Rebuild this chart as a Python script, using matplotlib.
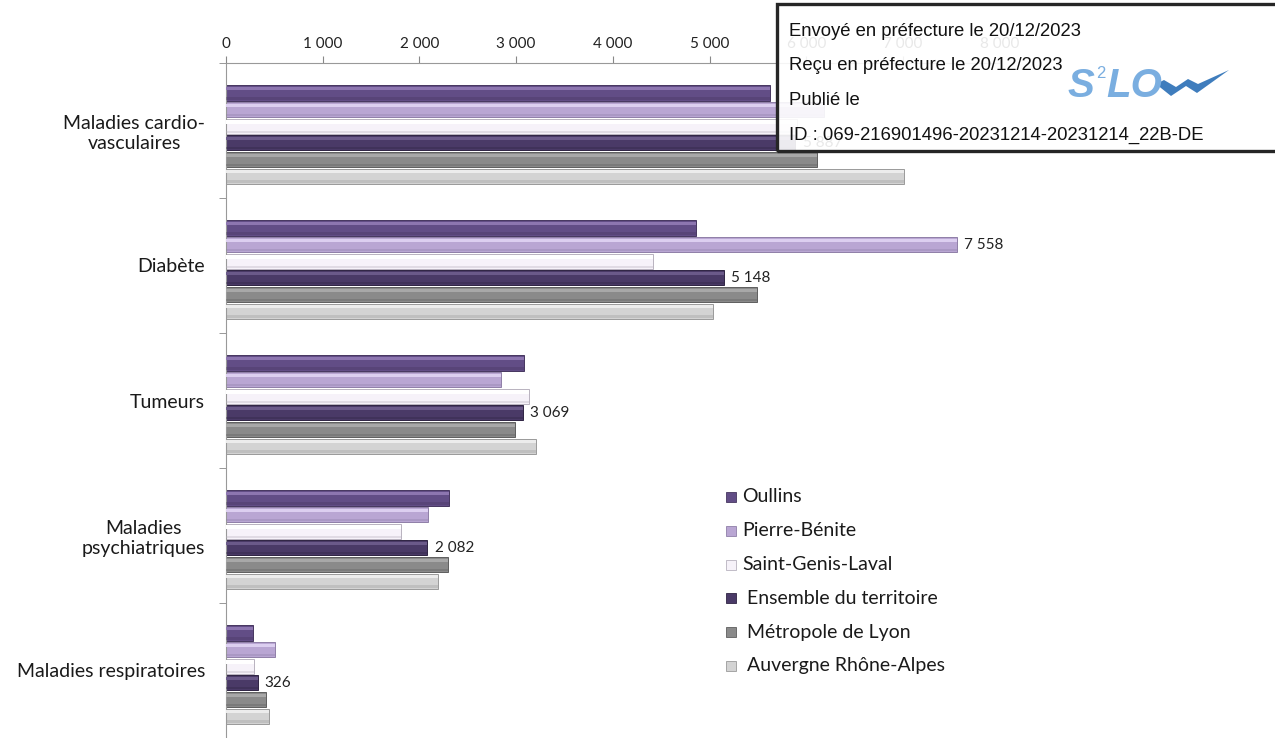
import numpy as np
import matplotlib
matplotlib.use("Agg")
import matplotlib.pyplot as plt
from matplotlib.patches import Rectangle, Polygon

plt.rcParams['font.family'] = ['Lato', 'DejaVu Sans']

categories = ["Maladies cardio-\nvasculaires", "Diabète", "Tumeurs",
              "Maladies\npsychiatriques", "Maladies respiratoires"]
series = ["Oullins", "Pierre-Bénite", "Saint-Genis-Laval",
          " Ensemble du territoire", " Métropole de Lyon", " Auvergne Rhône-Alpes"]
oullins = [5630, 4860, 3080, 2305, 275]
pierre_benite = [6180, 7558, 2840, 2090, 510]
saint_genis = [5900, 4420, 3135, 1810, 285]
ensemble = [5887, 5148, 3069, 2082, 326]
metropole = [6110, 5490, 2990, 2300, 415]
auvergne = [7010, 5040, 3210, 2190, 440]
xticks = [0, 1000, 2000, 3000, 4000, 5000, 6000, 7000, 8000]
# which bars carry a value label: (series index, category index)
labelled = [(3, 0), (1, 1), (3, 1), (3, 2), (3, 3), (3, 4)]

values = [oullins, pierre_benite, saint_genis, ensemble, metropole, auvergne]
# base, highlight, edge
colors = [("#624d86", "#8d76b0", "#46365f"),
          ("#b9a6d3", "#dccff0", "#8f7fa8"),
          ("#f6f2f9", "#ffffff", "#b8b2bf"),
          ("#4a3a67", "#6b5a8a", "#2f2443"),
          ("#8a8a8a", "#a8a8a8", "#5e5e5e"),
          ("#d3d3d3", "#ececec", "#9a9a9a")]

W, H = 1275, 738
fig = plt.figure(figsize=(W / 100, H / 100), dpi=100)
ax = fig.add_axes([226 / W, 0, 773.6 / W, 1 - 63 / H])

step, bh = 0.123, 0.112
for k, (vals, (c, hl, ec)) in enumerate(zip(values, colors)):
    y = np.arange(len(categories)) + 0.53 + (k - 2.5) * step
    ax.barh(y, vals, height=bh, color=c, edgecolor=ec, linewidth=0.7, zorder=2)
    ax.barh(y - bh * 0.28, vals, height=bh * 0.22, color=hl, linewidth=0, zorder=3)
    ax.barh(y + bh * 0.36, vals, height=bh * 0.14, color=ec, alpha=0.35, linewidth=0, zorder=3)
    for i, (yy, v) in enumerate(zip(y, vals)):
        if (k, i) in labelled:
            ax.text(v + 75, yy, f"{v:,}".replace(",", " "), va="center", ha="left",
                    fontsize=11, color="#222222")

ax.set_ylim(len(categories), 0)
ax.set_xlim(0, 8000)
ax.set_yticks(np.arange(len(categories)) + 0.5)
ax.set_yticklabels(categories, fontsize=14, color="#1a1a1a", multialignment="center")
ax.set_yticks(np.arange(len(categories) + 1), minor=True)
ax.tick_params(axis="y", which="major", length=0, pad=15)
ax.tick_params(axis="y", which="minor", length=5, color="#888888", direction="out")
ax.xaxis.tick_top()
ax.set_xticks(xticks)
ax.set_xticklabels([f"{v:,}".replace(",", " ") for v in xticks], fontsize=11, color="#222222")
ax.tick_params(axis="x", length=5, color="#888888", pad=4)
for s in ["right", "bottom"]:
    ax.spines[s].set_visible(False)
ax.spines["top"].set_color("#999999")
ax.spines["left"].set_color("#999999")

# legend, drawn by hand
for k, (name, (c, hl, ec)) in enumerate(zip(series, colors)):
    yp = 497 + k * 33.8
    fig.patches.append(Rectangle((726 / W, 1 - (yp + 5) / H), 10 / W, 10 / H,
                                 transform=fig.transFigure, facecolor=c, edgecolor=ec, lw=0.6))
    fig.text(742 / W, 1 - yp / H, name, fontsize=14, va="center", ha="left", color="#1a1a1a")

# stamp box
fig.patches.append(Rectangle((777 / W, 1 - 151 / H), 510 / W, 147 / H, transform=fig.transFigure,
                             facecolor="white", alpha=0.9, edgecolor="none", zorder=5))
fig.patches.append(Rectangle((777 / W, 1 - 151 / H), 510 / W, 147 / H, transform=fig.transFigure,
                             facecolor="none", edgecolor="#262626", lw=2.4, zorder=6))
stamp = ["Envoyé en préfecture le 20/12/2023", "Reçu en préfecture le 20/12/2023",
         "Publié le", "ID : 069-216901496-20231214-20231214_22B-DE"]
for i, t in enumerate(stamp):
    fig.text(789 / W, 1 - (31 + i * 34.7) / H, t, fontsize=13.3, va="center", ha="left",
             family="Liberation Sans", color="#111111", zorder=7)
fig.text(1067 / W, 1 - 86 / H, "S", fontsize=29, fontweight="bold", fontstyle="italic",
         family="Liberation Sans", color="#7aaee0", va="center", ha="left", zorder=7)
fig.text(1096 / W, 1 - 73 / H, "2", fontsize=12, family="Liberation Sans", color="#7aaee0",
         va="center", ha="left", zorder=7)
fig.text(1106 / W, 1 - 86 / H, "LO", fontsize=29, fontweight="bold", fontstyle="italic",
         family="Liberation Sans", color="#7aaee0", va="center", ha="left", zorder=7)
sw = [(1156, 84), (1171, 96), (1186, 86), (1197, 93), (1229, 70), (1198, 84), (1188, 79),
      (1176, 87), (1164, 80)]
fig.patches.append(Polygon([(x / W, 1 - y / H) for x, y in sw], closed=True,
                           transform=fig.transFigure, facecolor="#3f7dbd", edgecolor="none", zorder=7))

fig.savefig("out.png", dpi=100)
